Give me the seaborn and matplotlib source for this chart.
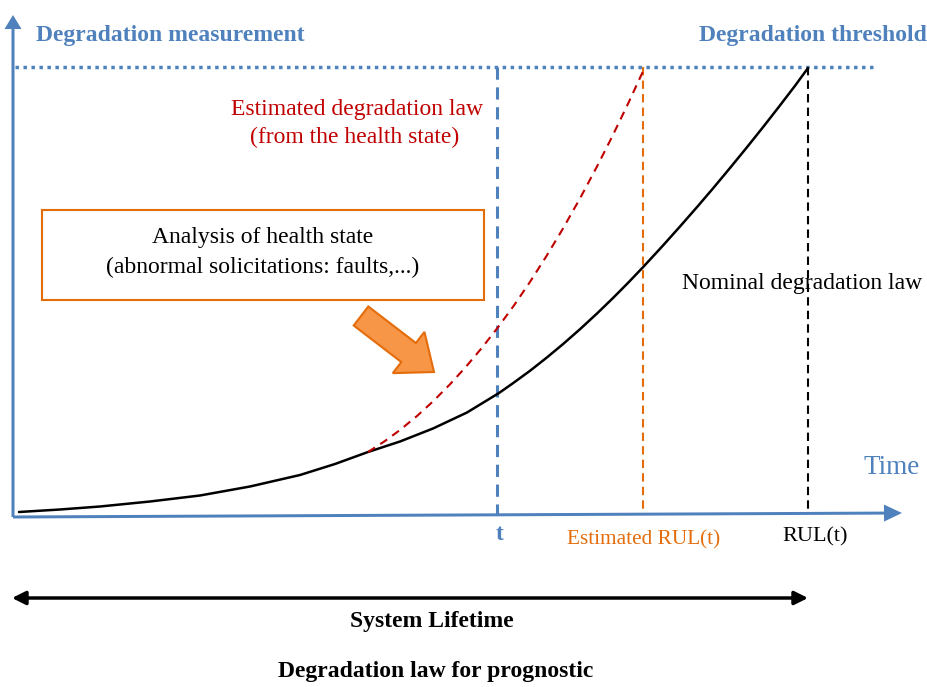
import numpy as np
import pandas as pd
import matplotlib.pyplot as plt
import seaborn as sns
from matplotlib.patches import FancyArrow, Rectangle, FancyArrowPatch

# chart data, in picture units (x to the right, y downward)
nominal_x = [19, 60, 100, 150, 200, 250, 300, 335, 368, 400, 433, 467, 499,
             513, 530, 547, 563, 580, 597, 613, 628, 643, 662, 680, 697,
             713, 730, 747, 763, 780, 795, 808]
nominal_y = [512, 509.5, 506.5, 501.5, 495.5, 486.5, 475, 464, 452, 441.5, 428.5, 412.5, 393,
             383.2, 370.8, 357.4, 344.1, 329.2, 313.5, 298, 282.9, 267.2, 246.6, 226.5, 207.1,
             188.4, 168, 147.2, 127.2, 105.4, 85.8, 68]
estimated_x = [368, 385, 400, 417, 433, 450, 466, 482, 498, 514, 530,
               547, 563, 580, 597, 612, 628, 645]
estimated_y = [452, 441, 430, 416, 401.4, 384.3, 366.7, 347.7, 327.3, 305.4, 281.9,
               255.2, 228.5, 198.4, 166.5, 136.9, 103.8, 67]
threshold_y = 67
origin_y = 517
marker_x = [497, 643, 808]
marker_labels = ['t', 'Estimated RUL(t)', 'RUL(t)']
lifetime_end = 808

blue = '#4F81BD'
orange = '#E46C0A'
red = '#C00000'

sns.set_theme(style='white')
plt.rcParams['font.family'] = ['Liberation Serif', 'DejaVu Serif']
plt.rcParams['text.color'] = 'black'

fig = plt.figure(figsize=(9.27, 6.87), dpi=100)
ax = fig.add_axes([0, 0, 1, 1])

# axes of the diagram
ax.add_patch(FancyArrow(13, origin_y, 0, -502, width=3, head_width=17, head_length=14,
                        length_includes_head=True, color=blue, lw=0))
ax.add_patch(FancyArrow(13, origin_y, 889, -4, width=3, head_width=17, head_length=18,
                        length_includes_head=True, color=blue, lw=0))

# threshold
ax.plot([15, 875], [threshold_y, threshold_y], color=blue, lw=2.5, ls=(0, (1, 1.3)))

# vertical markers
ax.plot([marker_x[0]] * 2, [threshold_y, origin_y - 2], color=blue, lw=2.2, ls=(0, (4, 2.5)))
ax.plot([marker_x[1]] * 2, [threshold_y, origin_y - 3], color=orange, lw=1.5, ls=(0, (4, 2.5)))
ax.plot([marker_x[2]] * 2, [threshold_y, origin_y - 4], color='black', lw=1.5, ls=(0, (4, 2.5)))

# degradation laws
df_nom = pd.DataFrame({'x': nominal_x, 'y': nominal_y})
df_est = pd.DataFrame({'x': estimated_x, 'y': estimated_y})
sns.lineplot(data=df_nom, x='x', y='y', ax=ax, color='black', lw=1.8, sort=False)
sns.lineplot(data=df_est, x='x', y='y', ax=ax, color=red, lw=1.5, sort=False,
             linestyle=(0, (4, 3)))
ax.set_xlim(0, 927)
ax.set_ylim(687, 0)
ax.axis('off')

# box and arrow
ax.add_patch(Rectangle((42, 210), 442, 90, fill=False, ec=orange, lw=1.5))
ax.text(263, 237, 'Analysis of health state', color='black', ha='center', va='center', fontsize=17)
ax.text(263, 267, '(abnormal solicitations: faults,...)', color='black', ha='center',
        va='center', fontsize=17)
ax.add_patch(FancyArrow(361, 316, 73, 56, width=24, head_width=52, head_length=32,
                        length_includes_head=True, fc='#F79646', ec=orange, lw=1.5))

# labels
ax.text(36, 36, 'Degradation measurement', color=blue, fontsize=17, fontweight='bold',
        ha='left', va='center')
ax.text(927, 36, 'Degradation threshold', color=blue, fontsize=17, fontweight='bold',
        ha='right', va='center')
ax.text(357, 110, 'Estimated degradation law', color=red, fontsize=17, ha='center', va='center')
ax.text(355, 137, '(from the health state)', color=red, fontsize=17, ha='center', va='center')
ax.text(922, 283, 'Nominal degradation law', color='black', fontsize=17, ha='right', va='center')
ax.text(920, 467, 'Time', color=blue, fontsize=19.5, ha='right', va='center')

ax.text(marker_x[0] + 3, 535, marker_labels[0], color=blue, fontsize=17, fontweight='bold',
        ha='center', va='center')
ax.text(marker_x[1] + 1, 540, marker_labels[1], color=orange, fontsize=15.3, ha='center', va='center')
ax.text(marker_x[2] + 7, 537, marker_labels[2], color='black', fontsize=16, ha='center', va='center')

# system lifetime
ax.add_patch(FancyArrowPatch((12, 598), (lifetime_end, 598), arrowstyle='<|-|>',
                             mutation_scale=20, lw=2.5, color='black', shrinkA=0, shrinkB=0))
ax.text(432, 622, 'System Lifetime', color='black', fontsize=17, fontweight='bold',
        ha='center', va='center')
ax.text(436, 672, 'Degradation law for prognostic', color='black', fontsize=17,
        fontweight='bold', ha='center', va='center')

fig.savefig('out.png', dpi=100)
